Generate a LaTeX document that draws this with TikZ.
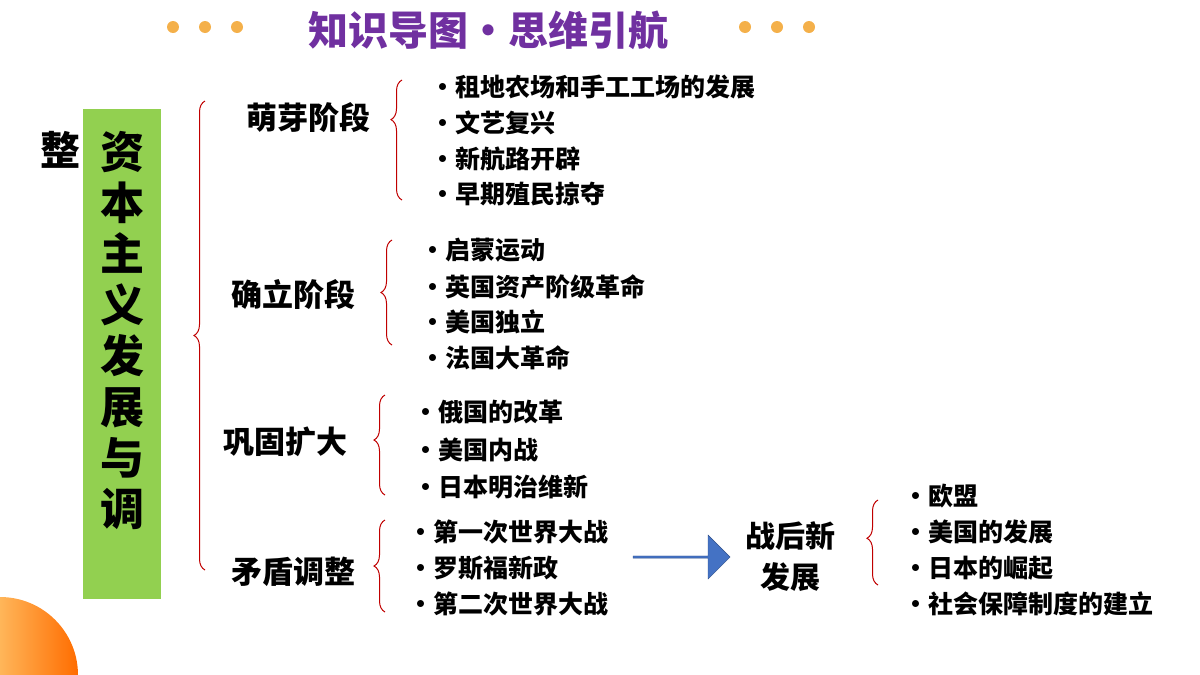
\documentclass[tikz,border=0pt]{standalone}
\usepackage{fontspec}
\setmainfont{Noto Sans CJK SC}
\usetikzlibrary{decorations.pathreplacing,shapes.arrows}
\definecolor{brred}{HTML}{C00000}
\definecolor{grn}{HTML}{92D050}
\definecolor{ttl}{HTML}{7030A0}
\definecolor{dot}{HTML}{F4B04A}
\definecolor{arr}{HTML}{4472C4}
\tikzset{
  brc/.style={draw=brred,line width=1pt,decorate,decoration={brace,amplitude=11pt,aspect=#1}},
  item/.style={anchor=west,inner sep=0pt,font=\fontsize{25}{28}\selectfont\bfseries},
  phase/.style={inner sep=0pt,font=\fontsize{31}{34}\selectfont\bfseries},
  odot/.style={fill=dot,draw=none}
}
\begin{document}
\begin{tikzpicture}[x=1pt,y=-1pt]
\useasboundingbox (0,0) rectangle (1200,675);
% corner circle
\begin{scope}
\clip (0,0) rectangle (1200,675);
\shade[left color=yellow!30,right color=orange!85!red] (0,675) circle (78);
\end{scope}
% title
\foreach \x in {173,205,237,745,777,809} \fill[odot] (\x,27) circle (6);
\node[text=ttl,font=\fontsize{40}{44}\selectfont\bfseries] (title) at (488,30) {知识导图•思维引航};
% green bar
\fill[grn] (83,109) rectangle (161,599);
\node[align=center,font=\fontsize{44}{51}\selectfont\bfseries] (vt) at (122,330) {资\\本\\主\\义\\发\\展\\与\\调};
\node[font=\fontsize{40}{44}\selectfont\bfseries] (zheng) at (60,150) {整};
% main brace
\draw[brc=0.5] (205,570) -- (205,101);
\node[phase] (p1) at (308,118) {萌芽阶段};
\node[phase] (p2) at (293,295) {确立阶段};
\node[phase] (p3) at (285,442) {巩固扩大};
\node[phase] (p4) at (293,572) {矛盾调整};
% brace 1
\draw[brc=0.67] (402,200) -- (402,80);
\node[item] (a1) at (430,87) {•租地农场和手工工场的发展};
\node[item] (a2) at (430,123) {•文艺复兴};
\node[item] (a3) at (430,159) {•新航路开辟};
\node[item] (a4) at (430,194) {•早期殖民掠夺};
% brace 2
\draw[brc=0.5] (392,345) -- (392,240);
\node[item] (b1) at (420,250) {•启蒙运动};
\node[item] (b2) at (420,287) {•英国资产阶级革命};
\node[item] (b3) at (420,322) {•美国独立};
\node[item] (b4) at (420,358) {•法国大革命};
% brace 3
\draw[brc=0.55] (385,495) -- (385,395);
\node[item] (c1) at (413,412) {•俄国的改革};
\node[item] (c2) at (413,450) {•美国内战};
\node[item] (c3) at (413,487) {•日本明治维新};
% brace 4
\draw[brc=0.5] (385,612) -- (385,520);
\node[item] (d1) at (408,532) {•第一次世界大战};
\node[item] (d2) at (408,568) {•罗斯福新政};
\node[item] (d3) at (408,604) {•第二次世界大战};
% arrow
\node[single arrow,fill=arr,draw=arr!70!black,minimum height=97pt,minimum width=44pt,single arrow head extend=4pt,inner sep=0pt] (ar) at (681,557) {};
\node[phase,align=center,font=\fontsize{30}{41}\selectfont\bfseries] (post) at (790,557) {战后新\\发展};
% brace 5
\draw[brc=0.55] (878,585) -- (878,500);
\node[item] (e1) at (903,496) {•欧盟};
\node[item] (e2) at (903,532) {•美国的发展};
\node[item] (e3) at (903,568) {•日本的崛起};
\node[item] (e4) at (903,604) {•社会保障制度的建立};
\end{tikzpicture}
\end{document}
